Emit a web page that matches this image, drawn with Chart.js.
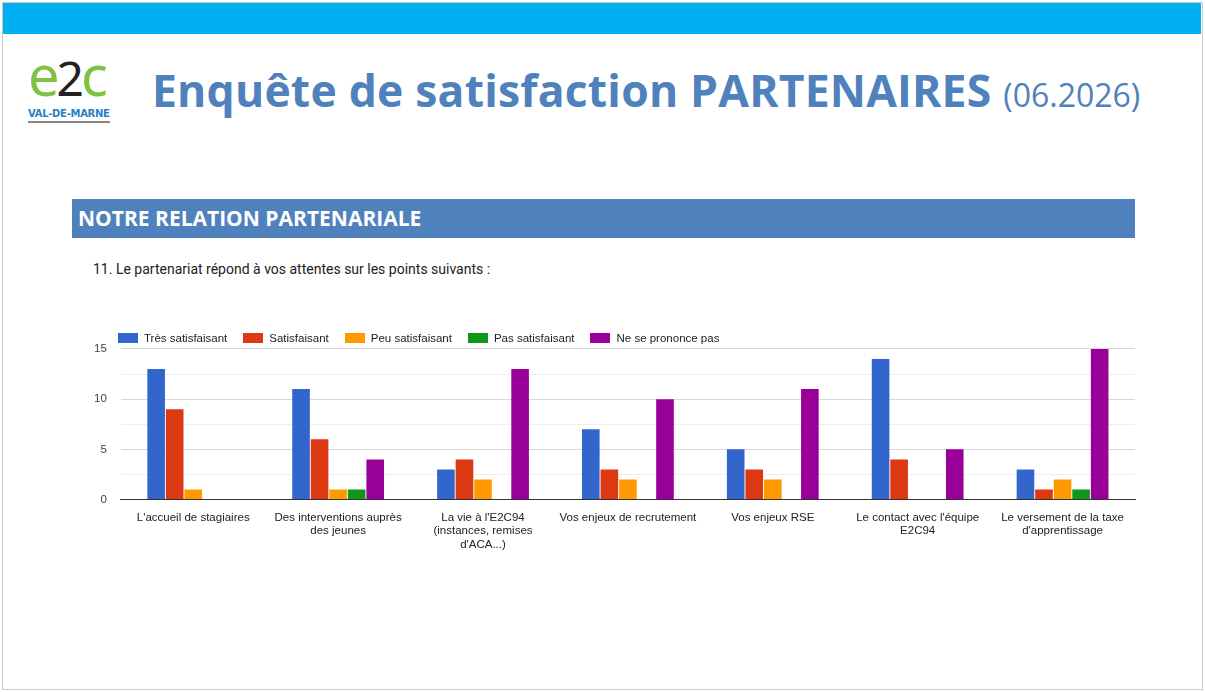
<!DOCTYPE html>
<html lang="fr">
<head>
<meta charset="UTF-8" />
<title>Enquête de satisfaction PARTENAIRES</title>
<script src="https://cdn.jsdelivr.net/npm/chart.js"></script>
<style>
    body { margin: 0; width: 1205px; height: 692px; background: #fff; font-family: Roboto, Arial, sans-serif; position: relative; overflow: hidden; }
    .frame { position: absolute; left: 2px; top: 2px; width: 1199px; height: 686px; border: 1px solid #ccc; }
    .topbar { position: absolute; left: 3px; top: 3px; width: 1198px; height: 31px; background: #00b0f0; }
    .logo { position: absolute; left: 28px; top: 46px; width: 82px; }
    .logo .e2c { font-family: "Noto Sans", sans-serif; font-size: 56px; color: #7dc242; line-height: 56px; letter-spacing: -3px; }
    .logo .e2c span { color: #222; font-size: 48px; }
    .logo .vdm { font-family: "DejaVu Sans", sans-serif; font-weight: bold; font-size: 10px; color: #2a7fc4; border-bottom: 2px solid #888; padding-bottom: 2px; margin-top: 2px; letter-spacing: -0.3px; }
    .title { position: absolute; left: 152px; top: 59px; font-family: "Open Sans", sans-serif; font-size: 44.5px; font-weight: bold; color: #4f81bd; white-space: nowrap; letter-spacing: 0.2px; }
    .title span { font-weight: normal; font-size: 32px; letter-spacing: 0; }
    .band { position: absolute; left: 72px; top: 199px; width: 1063px; height: 39px; background: #4f81bd; color: #fff; font-family: "Open Sans", sans-serif; font-weight: bold; font-size: 21px; line-height: 39px; padding-left: 6px; box-sizing: border-box; }
    .question { position: absolute; left: 93px; top: 261px; font-size: 14px; color: #222; }
    .legend { position: absolute; left: 118px; top: 332px; display: flex; font-family: Arial, "Liberation Sans", sans-serif; font-size: 11.5px; color: #222; }
    .legend div { display: flex; align-items: center; margin-right: 16px; }
    .legend i { display: inline-block; width: 20px; height: 10px; margin-right: 6px; }
    .chartbox { position: absolute; left: 80px; top: 328px; width: 1065px; height: 227px; }
</style>
</head>
<body>
<div class="frame"></div>
<div class="topbar"></div>
<div class="logo"><div class="e2c">e<span>2</span>c</div><div class="vdm">VAL-DE-MARNE</div></div>
<div class="title">Enquête de satisfaction PARTENAIRES <span>(06.2026)</span></div>
<div class="band">NOTRE RELATION PARTENARIALE</div>
<div class="question">11. Le partenariat répond à vos attentes sur les points suivants :</div>
<div class="chartbox"><canvas id="chart"></canvas></div>
<div class="legend" id="legend"></div>
<script>
    const categories = [
        "L'accueil de stagiaires",
        ["Des interventions auprès", "des jeunes"],
        ["La vie à l'E2C94", "(instances, remises", "d'ACA...)"],
        "Vos enjeux de recrutement",
        "Vos enjeux RSE",
        ["Le contact avec l'équipe", "E2C94"],
        ["Le versement de la taxe", "d'apprentissage"]
    ];
    const tresSatisfaisant = [13, 11, 3, 7, 5, 14, 3];
    const satisfaisant = [9, 6, 4, 3, 3, 4, 1];
    const peuSatisfaisant = [1, 1, 2, 2, 2, 0, 2];
    const pasSatisfaisant = [0, 1, 0, 0, 0, 0, 1];
    const nePrononcePas = [0, 4, 13, 10, 11, 5, 15];

    const ds = (label, data, color) => ({ label, data, backgroundColor: color, barPercentage: 0.95, categoryPercentage: 0.64 });

    const chart = new Chart(document.getElementById('chart'), {
        type: 'bar',
        data: {
            labels: categories,
            datasets: [
                ds('Très satisfaisant', tresSatisfaisant, '#3366cc'),
                ds('Satisfaisant', satisfaisant, '#dc3912'),
                ds('Peu satisfaisant', peuSatisfaisant, '#ff9900'),
                ds('Pas satisfaisant', pasSatisfaisant, '#109618'),
                ds('Ne se prononce pas', nePrononcePas, '#990099')
            ]
        },
        options: {
            responsive: true,
            maintainAspectRatio: false,
            animation: false,
            layout: { padding: { right: 10, top: 0 } },
            plugins: { legend: { display: false }, tooltip: { enabled: false } },
            scales: {
                x: {
                    grid: { display: false },
                    border: { color: '#333' },
                    ticks: { font: { size: 11.5, family: 'Arial, Liberation Sans' }, color: '#222', maxRotation: 0, autoSkip: false }
                },
                y: {
                    min: 0, max: 15,
                    border: { display: false },
                    ticks: {
                        stepSize: 2.5,
                        callback: v => (v % 5 === 0 ? v : ''),
                        font: { size: 11.5, family: 'Arial, Liberation Sans' }, color: '#444', padding: 14
                    },
                    grid: { color: ctx => (ctx.tick.value % 5 === 0 ? '#d9d9d9' : '#eeeeee'), drawTicks: false }
                }
            }
        }
    });

    // legend built from the datasets
    document.getElementById('legend').innerHTML = chart.data.datasets
        .map(d => `<div><i style="background:${d.backgroundColor}"></i>${d.label}</div>`).join('');
</script>
</body>
</html>
